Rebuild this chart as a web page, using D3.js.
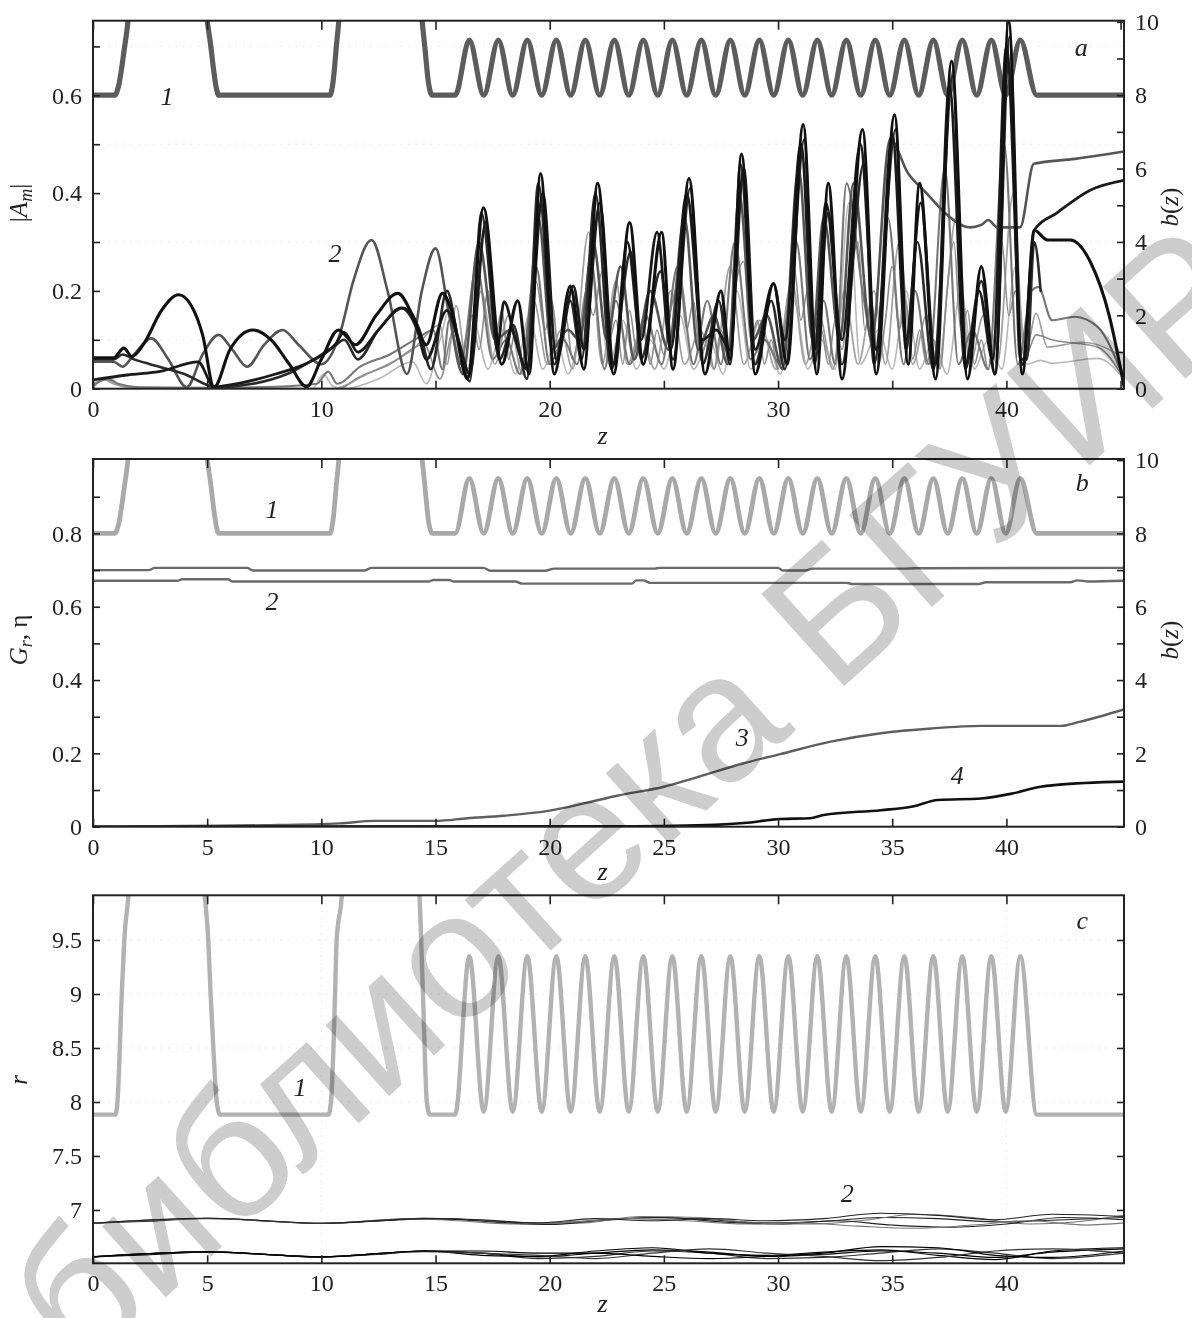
<!DOCTYPE html>
<html>
<head>
<meta charset="utf-8">
<script src="https://d3js.org/d3.v7.min.js"></script>
<style>
  body { margin: 0; background: #fff; }
  svg text { font-family: "Liberation Serif", "DejaVu Serif", serif; }
  .tick text { font-size: 24px; fill: #222; }
  .tick line { stroke: #222; stroke-width: 1.6; }
</style>
</head>
<body>
<svg id="chart" width="1192" height="1318"></svg>
<script>
// ---- data ----
const Z_MAX = 45.15;

// axis ticks
const ampTicks = [0, 0.2, 0.4, 0.6];
const ampMinor = [0.1, 0.3, 0.5, 0.7];
const bTicks = [0, 2, 4, 6, 8, 10];
const bMinor = [1, 3, 5, 7, 9];
const zLabelsA = [0, 10, 20, 30, 40];
const zMinorA = [5, 15, 25, 35, 45];
const grTicks = [0, 0.2, 0.4, 0.6, 0.8];
const grMinor = [0.1, 0.3, 0.5, 0.7, 0.9];
const zLabelsBC = [0, 5, 10, 15, 20, 25, 30, 35, 40];
const rTicks = [7, 7.5, 8, 8.5, 9, 9.5];

// wall profile b(z): flat / step sections, then oscillating section
const bSteps = [[0, 8], [0.96, 8], [1.1, 8.2], [1.45, 9.6], [1.6, 10.2], [4.92, 10.2], [5.1, 9.6], [5.4, 8.2], [5.5, 8],
  [10.38, 8], [10.5, 8.3], [10.7, 9.6], [10.82, 10.2], [14.35, 10.2], [14.5, 9.5], [14.7, 8.3], [14.85, 8], [15.86, 8]];
const bTail = [[41.33, 8], [45.15, 8]];
const oscPeakZ = [16.48, 17.75, 19.02, 20.29, 21.56, 22.83, 24.10, 25.37, 26.64, 27.91,
  29.18, 30.45, 31.72, 32.99, 34.26, 35.53, 36.80, 38.07, 39.34, 40.61];
const oscTroughZ = [17.11, 18.38, 19.65, 20.92, 22.19, 23.46, 24.73, 26.00, 27.27, 28.54,
  29.81, 31.08, 32.35, 33.62, 34.89, 36.16, 37.43, 38.70, 39.97];
const bPeak = 9.5, bTrough = 8.0;

// wall radius r(z), panel c
const rSteps = [[0, 7.883], [0.98, 7.883], [1.07, 8.0], [1.26, 9.0], [1.37, 9.5], [1.55, 9.9], [1.7, 10.3], [4.75, 10.3],
  [4.9, 9.9], [5.05, 9.5], [5.15, 9.0], [5.27, 8.5], [5.42, 8.0], [5.56, 7.883], [10.31, 7.883], [10.42, 8.0],
  [10.53, 8.5], [10.6, 9.0], [10.67, 9.5], [10.89, 9.9], [11.0, 10.3], [14.15, 10.3], [14.3, 9.9], [14.45, 9.0],
  [14.62, 8.0], [14.75, 7.883], [15.86, 7.883]];
const rTail = [[41.33, 7.883], [45.15, 7.883]];
const rPeak = 9.35, rTrough = 7.91;

// |A_m| curves, panel a
const ampBlackA = [[0,0.063],[0.9,0.063],[1.35,0.083],[1.7,0.066],[2.2,0.09],[3.0,0.16],[3.75,0.192],[4.3,0.17],[4.8,0.11],
  [5.3,0.003],[6.0,0.08],[7.0,0.12],[7.8,0.1],[8.6,0.05],[9.35,0.004],[10.0,0.06],[10.75,0.12],[11.5,0.09],[12.4,0.15],
  [13.35,0.195],[14.0,0.15],[14.6,0.09],[15.3,0.195],[15.7,0.16],[16.4,0.02],[17.1,0.37],[17.9,0.05],[18.6,0.18],
  [19.1,0.03],[19.6,0.44],[20.2,0.03],[20.9,0.21],[21.5,0.04],[22.1,0.42],[22.8,0.03],[23.5,0.34],[24.1,0.05],
  [24.9,0.32],[25.4,0.04],[26.1,0.43],[26.8,0.03],[27.5,0.2],[27.9,0.06],[28.4,0.48],[29.0,0.03],[29.8,0.215],
  [30.4,0.05],[31.1,0.54],[31.7,0.03],[32.2,0.42],[32.8,0.02],[33.7,0.53],[34.3,0.03],[35.1,0.56],[35.7,0.05],
  [36.2,0.42],[36.9,0.02],[37.6,0.67],[38.3,0.02],[38.9,0.25],[39.5,0.03],[40.1,0.75],[40.7,0.03],[41.22,0.324],
  [41.8,0.304],[42.8,0.304],[43.7,0.257],[44.5,0.15],[45.15,0.005]];
const ampBlackB = [[0,0.018],[1.5,0.028],[3,0.036],[4.6,0.055],[5.3,0.004],[6.5,0.012],[8,0.03],[9.5,0.055],[10.6,0.09],
  [11.0,0.115],[11.6,0.075],[12.5,0.12],[13.5,0.165],[14.2,0.12],[14.6,0.06],[15.5,0.16],[16.0,0.1],[16.5,0.03],
  [17.2,0.34],[17.7,0.08],[18.0,0.178],[18.5,0.1],[19.0,0.04],[19.7,0.40],[20.3,0.06],[21.04,0.21],[21.5,0.08],
  [22.2,0.38],[22.8,0.05],[23.4,0.3],[24.0,0.1],[24.7,0.32],[25.3,0.08],[26.0,0.40],[26.7,0.1],[27.3,0.12],
  [27.9,0.08],[28.5,0.45],[29.0,0.08],[29.8,0.215],[30.3,0.1],[31.0,0.50],[31.6,0.08],[32.1,0.38],[32.8,0.1],
  [33.6,0.50],[34.3,0.08],[35.0,0.52],[35.6,0.1],[36.25,0.38],[36.9,0.05],[37.5,0.62],[38.2,0.05],[38.8,0.2],
  [39.4,0.06],[40.0,0.70],[40.7,0.05],[41.22,0.324],[42.2,0.359],[43.67,0.406],[45.15,0.426]];
const ampBlackC = [[0,0.06],[0.9,0.06],[1.3,0.07],[1.8,0.06],[2.5,0.05],[4,0.03],[5.4,0.003],[7,0.01],[8.5,0.03],
  [10.6,0.088],[11.0,0.1],[11.6,0.06],[12.5,0.12],[13.6,0.165],[14.3,0.12],[14.8,0.04],[15.5,0.2],[16.0,0.1],
  [16.5,0.015],[17.0,0.36],[17.8,0.06],[18.4,0.13],[19.0,0.02],[19.5,0.42],[20.2,0.05],[20.9,0.18],[21.4,0.06],
  [22.0,0.40],[22.7,0.04],[23.55,0.28],[24.0,0.06],[24.85,0.24],[25.4,0.06],[26.15,0.41],[26.7,0.05],[27.4,0.18],
  [27.9,0.05],[28.35,0.46],[29.0,0.05],[29.7,0.18],[30.3,0.04],[31.15,0.51],[31.6,0.05],[32.2,0.36],[32.8,0.05],
  [33.75,0.46],[34.2,0.05],[35.15,0.53],[35.6,0.08],[36.1,0.3],[36.8,0.04],[37.65,0.64],[38.2,0.04],[38.9,0.22],
  [39.5,0.03],[40.15,0.72],[40.6,0.06],[40.9,0.06],[41.22,0.3],[41.5,0.2]];
const ampGrayA = [[0,0.055],[0.9,0.055],[1.3,0.045],[1.8,0.07],[2.55,0.103],[3.3,0.06],[4.1,0.003],[4.8,0.07],[5.5,0.11],
  [6.1,0.08],[6.75,0.045],[7.5,0.09],[8.3,0.12],[9.0,0.09],[10.0,0.05],[10.8,0.11],[11.4,0.22],[12.2,0.304],[12.9,0.2],
  [13.75,0.03],[14.4,0.2],[15.0,0.287],[15.6,0.15],[16.2,0.03],[16.9,0.3],[17.6,0.1],[18.3,0.12],[18.9,0.05],
  [19.5,0.35],[20.1,0.08],[20.8,0.12],[21.3,0.1],[21.9,0.3],[22.5,0.1],[23.1,0.25],[23.7,0.06],[24.4,0.2],[25.2,0.08],
  [25.9,0.35],[26.5,0.08],[27.2,0.15],[27.8,0.05],[28.3,0.4],[28.9,0.1],[29.5,0.15],[30.2,0.04],[30.9,0.45],
  [31.5,0.1],[32.0,0.35],[32.7,0.1],[33.3,0.42],[34.1,0.1],[34.9,0.51],[35.7,0.44],[36.5,0.40],[37.3,0.36],
  [38.4,0.33],[38.9,0.335],[39.2,0.345],[39.6,0.33],[40.6,0.33],[41.2,0.46],[43,0.47],[45.15,0.485]];
const ampGrayB = [[0,0.006],[0.6,0.02],[1.1,0.01],[2,0.003],[5,0.002],[8,0.004],[9.8,0.01],[10.3,0.035],[10.7,0.01],
  [11.7,0.045],[13,0.07],[14.3,0.106],[14.9,0.12],[15.3,0.04],[15.6,0.14],[16.1,0.05],[16.8,0.25],[17.5,0.06],
  [18.1,0.1],[18.7,0.03],[19.4,0.25],[20.0,0.05],[20.6,0.1],[21.2,0.05],[21.8,0.26],[22.4,0.04],[22.9,0.18],
  [23.5,0.05],[24.2,0.15],[24.9,0.05],[25.6,0.25],[26.3,0.05],[26.9,0.18],[27.5,0.05],[28.1,0.3],[28.8,0.06],
  [29.4,0.1],[30.1,0.05],[30.8,0.3],[31.4,0.06],[32.0,0.18],[32.5,0.05],[33.0,0.42],[33.7,0.2],[34.3,0.06],
  [34.8,0.35],[35.5,0.05],[36.0,0.2],[36.6,0.05],[37.3,0.45],[37.9,0.05],[38.5,0.12],[39.2,0.04],[39.9,0.5],
  [40.5,0.05],[41.1,0.2],[41.4,0.208],[42.0,0.14],[43.0,0.147],[44.0,0.126],[45.15,0.02]];
const ampGrayC = [[0,0.0],[10.8,0.0],[11.5,0.02],[13,0.05],[14.5,0.09],[15.2,0.02],[15.8,0.12],[16.3,0.06],[16.6,0.15],
  [16.9,0.08],[17.3,0.2],[17.6,0.1],[17.9,0.16],[18.2,0.06],[18.5,0.12],[18.8,0.05],[19.1,0.1],[19.4,0.22],[19.8,0.12],
  [20.1,0.18],[20.4,0.07],[20.7,0.15],[21.0,0.06],[21.3,0.12],[21.6,0.2],[21.9,0.15],[22.3,0.24],[22.6,0.1],[22.9,0.14],
  [23.2,0.05],[23.5,0.16],[23.8,0.08],[24.1,0.13],[24.4,0.05],[24.7,0.12],[25.0,0.07],[25.3,0.16],[25.7,0.22],
  [26.0,0.12],[26.3,0.18],[26.6,0.06],[26.9,0.1],[27.2,0.04],[27.5,0.12],[27.8,0.07],[28.1,0.2],[28.5,0.26],
  [28.8,0.1],[29.1,0.14],[29.4,0.05],[29.7,0.1],[30.0,0.04],[30.3,0.13],[30.7,0.25],[31.0,0.14],[31.3,0.2],
  [31.6,0.06],[31.9,0.12],[32.2,0.05],[32.5,0.14],[32.8,0.08],[33.1,0.2],[33.5,0.3],[33.8,0.12],[34.1,0.18],
  [34.4,0.05],[34.7,0.14],[35.0,0.25],[35.3,0.12],[35.6,0.18],[35.9,0.06],[36.2,0.12],[36.5,0.05],[36.8,0.1],
  [37.1,0.04],[37.4,0.2],[37.7,0.3],[38.0,0.12],[38.3,0.16],[38.6,0.05],[38.9,0.1],[39.2,0.04],[39.5,0.12],
  [39.8,0.3],[40.1,0.15],[40.4,0.2],[40.7,0.05],[41.0,0.08],[41.3,0.11],[42,0.1],[44,0.085],[45.15,0.02]];
const ampLightA = [[0,0.01],[0.5,0.018],[1.0,0.008],[2,0.002],[10.5,0.0],[12,0.03],[14,0.08],[15.2,0.13],[15.5,0.05],
  [15.9,0.17],[16.4,0.04],[17.0,0.2],[17.6,0.05],[18.2,0.15],[18.8,0.03],[19.3,0.18],[19.9,0.05],[20.5,0.12],
  [21.0,0.04],[21.7,0.32],[22.3,0.05],[22.9,0.22],[23.4,0.05],[24.0,0.12],[24.6,0.04],[25.3,0.2],[25.9,0.05],
  [26.6,0.12],[27.2,0.04],[27.9,0.25],[28.5,0.05],[29.2,0.14],[29.9,0.04],[30.6,0.22],[31.2,0.05],[31.8,0.15],
  [32.4,0.04],[32.9,0.2],[33.5,0.05],[34.2,0.2],[34.7,0.05],[35.3,0.3],[35.9,0.05],[36.5,0.15],[37.0,0.04],
  [37.8,0.35],[38.4,0.05],[39.0,0.15],[39.6,0.05],[40.3,0.4],[40.8,0.06],[41.3,0.154],[41.8,0.085],[43.3,0.095],
  [44.8,0.072],[45.15,0.02]];
const ampLightB = [[0,0.0],[0.3,0.015],[0.8,0.02],[1.2,0.005],[2,0],[9.6,0.0],[10.1,0.03],[10.5,0.005],[11,0.0],
  [12.5,0.02],[14.0,0.055],[14.6,0.01],[15.2,0.1],[15.6,0.16],[16.0,0.05],[16.6,0.15],[17.3,0.04],[17.9,0.12],
  [18.5,0.03],[19.1,0.15],[19.7,0.04],[20.3,0.1],[20.8,0.03],[21.5,0.16],[22.0,0.27],[22.6,0.05],[23.2,0.14],
  [23.8,0.04],[24.4,0.1],[25.0,0.04],[25.7,0.15],[26.3,0.04],[27.0,0.1],[27.6,0.03],[28.2,0.2],[28.8,0.04],
  [29.5,0.1],[30.1,0.03],[30.7,0.18],[31.3,0.04],[31.9,0.1],[32.5,0.04],[33.1,0.38],[33.6,0.05],[34.4,0.12],
  [35.0,0.04],[35.6,0.2],[36.2,0.04],[36.8,0.1],[37.4,0.03],[38.0,0.2],[38.6,0.04],[39.2,0.1],[39.8,0.04],
  [40.4,0.25],[40.9,0.05],[41.5,0.058],[42,0.052],[44,0.062],[45.15,0.02]];

// panel b curves
const gUpper = [[0,0.700],[2.45,0.700],[2.7,0.706],[6.75,0.706],[7.0,0.699],[11.9,0.699],[12.2,0.706],[17.1,0.706],
  [17.4,0.698],[19.8,0.698],[20.2,0.704],[24.6,0.704],[24.8,0.706],[30.0,0.706],[30.2,0.699],[31.2,0.699],
  [31.5,0.704],[35.5,0.704],[36,0.705],[45.15,0.706]];
const gLower = [[0,0.671],[3.7,0.671],[3.9,0.675],[5.9,0.675],[6.1,0.669],[14.7,0.669],[14.9,0.673],[15.6,0.673],
  [15.8,0.669],[18.5,0.669],[18.8,0.663],[23.6,0.663],[23.8,0.672],[24.1,0.672],[24.4,0.665],[33.0,0.665],
  [33.3,0.662],[38.8,0.662],[39.1,0.667],[42.8,0.667],[43.1,0.672],[43.6,0.669],[45.15,0.671]];
const gainCurve = [[0,0],[4,0.002],[7.5,0.004],[10.8,0.009],[12.3,0.016],[15,0.016],[16.4,0.023],[18,0.03],[20,0.044],
  [21.6,0.065],[23,0.085],[25,0.109],[26.3,0.132],[28.5,0.173],[30.1,0.198],[32.3,0.232],[34.5,0.255],[36.7,0.268],
  [38.9,0.275],[42.4,0.275],[43.2,0.286],[45.15,0.32]];
const etaCurve = [[0,0],[23.5,0.001],[25,0.002],[27.2,0.005],[28.5,0.01],[30.1,0.021],[31.4,0.023],[32.0,0.032],
  [34.5,0.045],[35.9,0.055],[37.0,0.073],[38.9,0.077],[40.3,0.091],[41.5,0.109],[42.2,0.114],[45.15,0.123]];

// panel c electron radii
const rUpper1 = [[0,6.877],[2.5,6.895],[5,6.923],[7.5,6.9],[10,6.877],[12.5,6.9],[14.5,6.923],[17,6.905],[19.5,6.877],[22,6.9],[24.5,6.93],[27,6.91],[29.5,6.88],[32,6.895],[34.5,6.93],[37,6.92],[39.5,6.89],[42,6.905],[45.15,6.93]];
const rUpper2 = [[0,6.878],[5,6.922],[10,6.876],[14.5,6.922],[16.5,6.91],[19,6.87],[21.5,6.88],[24,6.94],[26.5,6.93],[29,6.88],[31.5,6.87],[34,6.91],[36,6.96],[38.5,6.93],[41,6.87],[43.5,6.9],[45.15,6.95]];
const rUpper3 = [[0,6.876],[5,6.921],[10,6.875],[15,6.92],[17.5,6.89],[20,6.865],[22.5,6.91],[25,6.93],[27.5,6.89],[30,6.87],[32.5,6.9],[35,6.86],[37.5,6.84],[40,6.87],[42.5,6.93],[45.15,6.91]];
const rUpper4 = [[0,6.877],[5,6.92],[10,6.876],[14,6.92],[16,6.9],[18.5,6.87],[21,6.89],[23.5,6.92],[26,6.9],[28.5,6.87],[31,6.88],[33.5,6.85],[36,6.83],[38.5,6.86],[41,6.9],[43.5,6.86],[45.15,6.88]];
const rUpper5 = [[0,6.877],[5,6.923],[10,6.877],[14.5,6.92],[17,6.91],[19.5,6.88],[22,6.92],[24.5,6.9],[27,6.92],[29.5,6.9],[32,6.92],[34.5,6.97],[37,6.95],[39.5,6.91],[42,6.96],[45.15,6.94]];
const rLower1 = [[0,6.565],[2.5,6.585],[5,6.612],[7.5,6.59],[10,6.565],[12.5,6.59],[14.5,6.62],[17,6.6],[19.5,6.565],[22,6.6],[24.5,6.63],[27,6.61],[29.5,6.57],[32,6.59],[34.5,6.62],[37,6.6],[39.5,6.56],[42,6.61],[45.15,6.64]];
const rLower2 = [[0,6.567],[5,6.61],[10,6.566],[14.5,6.62],[17,6.6],[19.5,6.55],[22,6.57],[24.5,6.62],[27,6.6],[29.5,6.55],[32,6.56],[34.5,6.6],[37,6.64],[39.5,6.6],[42,6.55],[45.15,6.6]];
const rLower3 = [[0,6.566],[5,6.613],[10,6.566],[14.5,6.62],[17,6.58],[19.5,6.57],[22,6.62],[24.5,6.65],[27,6.6],[29.5,6.58],[32,6.61],[34.5,6.63],[37,6.58],[39.5,6.54],[42,6.62],[45.15,6.65]];
const rLower4 = [[0,6.566],[5,6.612],[10,6.565],[14.5,6.615],[17,6.6],[19.5,6.58],[22,6.55],[24.5,6.6],[27,6.64],[29.5,6.6],[32,6.57],[34.5,6.53],[37,6.56],[39.5,6.62],[42,6.64],[45.15,6.6]];
const rLower5 = [[0,6.566],[5,6.611],[10,6.566],[14.5,6.62],[17,6.62],[19.5,6.6],[22,6.6],[24.5,6.57],[27,6.55],[29.5,6.57],[32,6.6],[34.5,6.66],[37,6.65],[39.5,6.58],[42,6.56],[45.15,6.62]];

// ---- helpers ----
function buildProfile(steps, tail, peak, trough) {
  const osc = oscPeakZ.map(z => [z, peak]).concat(oscTroughZ.map(z => [z, trough]));
  return steps.concat(osc.sort((a, b) => a[0] - b[0]), tail);
}

const svg = d3.select('#chart');
const x = d3.scaleLinear().domain([0, Z_MAX]).range([93, 1124]);
const L = 93, R = 1124;

function makePanel(cfg) {
  const g = svg.append('g');
  const yL = d3.scaleLinear().domain(cfg.yDomain).range([cfg.bottom, cfg.top]);
  const yR = cfg.rDomain ? d3.scaleLinear().domain(cfg.rDomain).range([cfg.bottom, cfg.top]) : null;

  const clipId = 'clip-' + cfg.id;
  svg.append('clipPath').attr('id', clipId).append('rect')
    .attr('x', L).attr('y', cfg.top).attr('width', R - L).attr('height', cfg.bottom - cfg.top);

  // faint dotted grid
  const grid = g.append('g').attr('stroke', '#e2e2e2').attr('stroke-dasharray', '1.5,6').attr('stroke-width', 1);
  cfg.gridY.forEach(v => grid.append('line').attr('x1', L).attr('x2', R).attr('y1', yL(v)).attr('y2', yL(v)));
  cfg.gridX.forEach(v => grid.append('line').attr('y1', cfg.top).attr('y2', cfg.bottom).attr('x1', x(v)).attr('x2', x(v)));

  const plot = g.append('g').attr('clip-path', `url(#${clipId})`);

  // axes
  const fmt = cfg.fmt;
  g.append('g').attr('transform', `translate(${L},0)`)
    .call(d3.axisLeft(yL).tickValues(cfg.yTicks).tickSize(-7).tickPadding(11).tickFormat(fmt));
  if (cfg.yMinor) g.append('g').attr('transform', `translate(${L},0)`)
    .call(d3.axisLeft(yL).tickValues(cfg.yMinor).tickSize(-7).tickFormat(''));
  if (yR) {
    g.append('g').attr('transform', `translate(${R},0)`)
      .call(d3.axisRight(yR).tickValues(bTicks).tickSize(-7).tickPadding(11).tickFormat(d3.format('d')));
    g.append('g').attr('transform', `translate(${R},0)`)
      .call(d3.axisRight(yR).tickValues(bMinor).tickSize(-7).tickFormat(''));
  } else {
    g.append('g').attr('transform', `translate(${R},0)`)
      .call(d3.axisRight(yL).tickValues(cfg.yTicks).tickSize(-7).tickFormat(''));
  }
  g.append('g').attr('transform', `translate(0,${cfg.bottom})`)
    .call(d3.axisBottom(x).tickValues(cfg.xLabels).tickSize(-8).tickPadding(11).tickFormat(d3.format('d')));
  g.append('g').attr('transform', `translate(0,${cfg.top})`)
    .call(d3.axisTop(x).tickValues(cfg.xLabels).tickSize(-9).tickFormat(''));
  if (cfg.xMinor) {
    g.append('g').attr('transform', `translate(0,${cfg.bottom})`)
      .call(d3.axisBottom(x).tickValues(cfg.xMinor).tickSize(-8).tickFormat(''));
    g.append('g').attr('transform', `translate(0,${cfg.top})`)
      .call(d3.axisTop(x).tickValues(cfg.xMinor).tickSize(-9).tickFormat(''));
  }
  g.selectAll('.domain').remove();

  // frame
  g.append('rect').attr('x', L).attr('y', cfg.top).attr('width', R - L).attr('height', cfg.bottom - cfg.top)
    .attr('fill', 'none').attr('stroke', '#222').attr('stroke-width', 2);

  // x title
  g.append('text').attr('x', x(Z_MAX / 2) - 6).attr('y', cfg.bottom + cfg.zGap).attr('text-anchor', 'middle')
    .attr('font-size', 26).attr('font-style', 'italic').attr('fill', '#222').text('z');

  return { g, plot, yL, yR };
}

function drawLine(layer, data, xs, ys, color, width) {
  const line = d3.line().x(d => xs(d[0])).y(d => ys(d[1])).curve(d3.curveMonotoneX);
  layer.append('path').datum(data).attr('d', line).attr('fill', 'none')
    .attr('stroke', color).attr('stroke-width', width).attr('stroke-linejoin', 'round').attr('stroke-linecap', 'round');
}

function curveLabel(g, xv, yv, txt, size) {
  g.append('text').attr('x', xv).attr('y', yv).attr('text-anchor', 'middle').attr('dominant-baseline', 'central')
    .attr('font-size', size || 26).attr('font-style', 'italic').attr('fill', '#222').text(txt);
}

function leftTitle(g, yc, build) {
  const t = g.append('text').attr('transform', `translate(27,${yc}) rotate(-90)`).attr('text-anchor', 'middle')
    .attr('font-size', 25).attr('fill', '#222');
  build(t);
}

function rightTitle(g, yc) {
  g.append('text').attr('transform', `translate(1178,${yc}) rotate(-90)`).attr('text-anchor', 'middle')
    .attr('font-size', 25).attr('fill', '#222')
    .call(t => {
      t.append('tspan').attr('font-style', 'italic').text('b');
      t.append('tspan').text('(');
      t.append('tspan').attr('font-style', 'italic').text('z');
      t.append('tspan').text(')');
    });
}

const bProfile = buildProfile(bSteps, bTail, bPeak, bTrough);
const rProfile = buildProfile(rSteps, rTail, rPeak, rTrough);

// ---- panel a ----
const pa = makePanel({
  id: 'a', top: 20.7, bottom: 388.7, yDomain: [0, 0.7526], rDomain: [0, 10.03], zGap: 55,
  yTicks: ampTicks, yMinor: ampMinor, xLabels: zLabelsA, xMinor: zMinorA,
  fmt: d => d === 0 ? '0' : d3.format('.1f')(d), gridY: [0.1, 0.3, 0.5, 0.7], gridX: []
});
drawLine(pa.plot, bProfile, x, pa.yR, '#5c5c5c', 5.2);
drawLine(pa.plot, ampLightB, x, pa.yL, '#b8b8b8', 1.6);
drawLine(pa.plot, ampLightA, x, pa.yL, '#a0a0a0', 1.7);
drawLine(pa.plot, ampGrayC, x, pa.yL, '#8c8c8c', 1.6);
drawLine(pa.plot, ampGrayB, x, pa.yL, '#777', 2.1);
drawLine(pa.plot, ampGrayA, x, pa.yL, '#555', 2.6);
drawLine(pa.plot, ampBlackC, x, pa.yL, '#2a2a2a', 2.6);
drawLine(pa.plot, ampBlackB, x, pa.yL, '#1a1a1a', 2.8);
drawLine(pa.plot, ampBlackA, x, pa.yL, '#111', 3.1);
curveLabel(pa.g, x(3.24), pa.yL(0.597), '1');
curveLabel(pa.g, x(10.6), pa.yL(0.277), '2');
curveLabel(pa.g, x(43.28), pa.yL(0.697), 'a');
leftTitle(pa.g, 203, t => {
  t.append('tspan').text('|');
  t.append('tspan').attr('font-style', 'italic').text('A');
  t.append('tspan').attr('font-style', 'italic').attr('font-size', 18).attr('dy', 5).text('m');
  t.append('tspan').attr('dy', -5).text('|');
});
rightTitle(pa.g, 207);

// ---- panel b ----
const pb = makePanel({
  id: 'b', top: 459, bottom: 826.7, yDomain: [0, 1.003], rDomain: [0, 10.03], zGap: 53,
  yTicks: grTicks, yMinor: grMinor, xLabels: zLabelsBC, xMinor: null,
  fmt: d => d === 0 ? '0' : d3.format('.1f')(d), gridY: [], gridX: []
});
drawLine(pb.plot, bProfile, x, pb.yR, '#a9a9a9', 4.8);
drawLine(pb.plot, gUpper, x, pb.yL, '#6a6a6a', 2.4);
drawLine(pb.plot, gLower, x, pb.yL, '#6a6a6a', 2.4);
drawLine(pb.plot, gainCurve, x, pb.yL, '#5e5e5e', 2.4);
drawLine(pb.plot, etaCurve, x, pb.yL, '#111', 2.6);
curveLabel(pb.g, x(7.84), pb.yL(0.864), '1');
curveLabel(pb.g, x(7.84), pb.yL(0.613), '2');
curveLabel(pb.g, x(28.43), pb.yL(0.242), '3');
curveLabel(pb.g, x(37.85), pb.yL(0.141), '4');
curveLabel(pb.g, x(43.32), pb.yL(0.94), 'b');
leftTitle(pb.g, 640, t => {
  t.append('tspan').attr('font-style', 'italic').text('G');
  t.append('tspan').attr('font-style', 'italic').attr('font-size', 18).attr('dy', 5).text('r');
  t.append('tspan').attr('dy', -5).text(', η');
});
rightTitle(pb.g, 640);

// ---- panel c ----
const pc = makePanel({
  id: 'c', top: 895.3, bottom: 1263.3, yDomain: [6.506, 9.914], rDomain: null, zGap: 49,
  yTicks: rTicks, yMinor: null, xLabels: zLabelsBC, xMinor: null,
  fmt: d => String(d), gridY: [8, 8.5, 9, 9.5], gridX: [10, 40]
});
drawLine(pc.plot, rProfile, x, pc.yL, '#b2b2b2', 4.4);
[rUpper1, rUpper2, rUpper3, rUpper4, rUpper5].forEach((s, i) =>
  drawLine(pc.plot, s, x, pc.yL, i % 2 ? '#777' : '#222', 1.1));
[rLower1, rLower2, rLower3, rLower4, rLower5].forEach((s, i) =>
  drawLine(pc.plot, s, x, pc.yL, i % 2 ? '#333' : '#000', 1.2));
curveLabel(pc.g, x(9.07), pc.yL(8.13), '1');
curveLabel(pc.g, x(33.03), pc.yL(7.157), '2');
curveLabel(pc.g, x(43.32), pc.yL(9.676), 'c');
leftTitle(pc.g, 1080, t => t.append('tspan').attr('font-style', 'italic').text('r'));

// ---- library watermark ----
svg.append('text')
  .attr('transform', 'translate(630,795) rotate(-42)')
  .attr('text-anchor', 'middle').attr('dominant-baseline', 'central')
  .style('font-family', '"Liberation Sans", Arial, sans-serif')
  .attr('font-size', 180).attr('fill', '#cdcdcd')
  .style('mix-blend-mode', 'multiply')
  .text('библиотека БГУИР');
</script>
</body>
</html>
